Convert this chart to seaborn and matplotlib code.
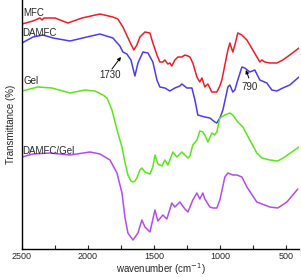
import pandas as pd
import matplotlib
matplotlib.use("Agg")
import matplotlib.pyplot as plt
import seaborn as sns

# FTIR spectra (arbitrary transmittance units)
mfc_wn = [2500, 2417, 2364, 2348, 2333, 2250, 2152, 2045, 1909, 1811, 1773, 1735, 1682, 1652,
          1629, 1606, 1568, 1530, 1508, 1477, 1455, 1432, 1417, 1394, 1379, 1364, 1341, 1318,
          1288, 1265, 1242, 1227, 1205, 1174, 1152, 1136, 1114, 1091, 1061, 1023, 1000, 985,
          939, 924, 902, 886, 864, 833, 795, 750, 697, 682, 659, 621, 568, 523, 470, 400]
mfc_t = [226, 229, 232, 230, 232, 232, 227, 232, 236, 233, 231, 223, 208, 200,
         205, 213, 218, 217, 207, 195, 188, 188, 190, 186, 187, 184, 190, 193,
         193, 195, 194, 193, 187, 173, 168, 172, 163, 166, 158, 158, 164, 170,
         200, 207, 198, 205, 217, 215, 210, 200, 188, 190, 188, 187, 187, 190, 195, 202]

damfc_wn = [2500, 2417, 2341, 2265, 2136, 2008, 1909, 1811, 1758, 1735, 1705, 1674, 1644,
            1621, 1583, 1545, 1508, 1477, 1455, 1417, 1379, 1341, 1303, 1288, 1250, 1212,
            1189, 1167, 1114, 1076, 1038, 1023, 1000, 977, 939, 924, 902, 886, 871, 833,
            811, 773, 735, 697, 644, 606, 568, 523, 470, 400]
damfc_t = [207, 213, 215, 212, 209, 213, 216, 212, 204, 198, 196, 190, 174,
           187, 198, 197, 188, 170, 163, 162, 159, 162, 164, 166, 162, 162,
           150, 135, 133, 132, 128, 127, 132, 140, 163, 165, 158, 160, 167, 183,
           182, 178, 180, 170, 167, 160, 159, 162, 165, 173]

gel_wn = [2500, 2379, 2273, 2136, 2023, 1947, 1886, 1856, 1818, 1795, 1773, 1742, 1720,
          1697, 1674, 1659, 1644, 1629, 1606, 1591, 1568, 1530, 1508, 1492, 1470, 1439,
          1417, 1394, 1379, 1356, 1326, 1288, 1242, 1227, 1205, 1174, 1152, 1129, 1114,
          1091, 1061, 1038, 1023, 1000, 962, 924, 902, 864, 826, 773, 720, 682, 621, 561,
          508, 455, 400]
gel_t = [159, 163, 162, 157, 160, 159, 155, 152, 140, 128, 117, 103, 88,
         75, 69, 68, 69, 72, 80, 82, 78, 76, 83, 95, 86, 84,
         90, 85, 90, 98, 93, 98, 92, 94, 105, 110, 119, 118, 115,
         108, 117, 115, 118, 132, 135, 137, 135, 128, 123, 110, 97, 92, 90, 89,
         93, 98, 103]

dg_wn = [2500, 2417, 2288, 2136, 1985, 1909, 1833, 1780, 1742, 1720, 1697, 1659, 1621,
         1591, 1568, 1530, 1492, 1470, 1432, 1402, 1364, 1341, 1303, 1265, 1242, 1205,
         1174, 1152, 1129, 1114, 1076, 1053, 1023, 1000, 962, 939, 902, 871, 833, 795,
         720, 621, 561, 492, 447, 409]
dg_t = [93, 96, 97, 95, 98, 96, 90, 77, 57, 33, 17, 10, 17,
        30, 23, 18, 40, 29, 35, 31, 47, 43, 48, 41, 38, 50,
        57, 51, 57, 51, 43, 42, 42, 50, 73, 77, 75, 75, 73, 63,
        48, 43, 42, 48, 55, 61]

names = ["MFC", "DAMFC", "Gel", "DAMFC/Gel"]
colors = ["#ee1c25", "#4b3cf0", "#5ae619", "#b44af0"]
spectra = [(mfc_wn, mfc_t), (damfc_wn, damfc_t), (gel_wn, gel_t), (dg_wn, dg_t)]

sns.set_style("ticks")
plt.rcParams["font.family"] = ["Liberation Sans", "DejaVu Sans"]

fig = plt.figure(figsize=(3.01, 2.77), dpi=100)
ax = fig.add_axes([22 / 301, 28 / 277, 277 / 301, 249 / 277])

for name, color, (wn, t) in zip(names, colors, spectra):
    df = pd.DataFrame({"wn": wn, "T": t})
    sns.lineplot(data=df, x="wn", y="T", color=color, linewidth=1.1, ax=ax,
                 sort=False, estimator=None)

ax.set_xlim(2500, 400)
ax.set_ylim(1, 250)
ax.set_xticks([2500, 2000, 1500, 1000, 500])
ax.set_xticks([2250, 1750, 1250, 750], minor=True)
ax.set_yticks([])
ax.tick_params(axis="x", which="both", direction="in", length=3, width=0.8,
               labelsize=6.5, pad=2.5)
sns.despine(ax=ax)
for sp in ["left", "bottom"]:
    ax.spines[sp].set_linewidth(1.0)
    ax.spines[sp].set_color("black")

ax.set_xlabel("wavenumber (cm$^{-1}$)", fontsize=7, labelpad=0)
ax.set_ylabel("Transmittance (%)", fontsize=7, labelpad=4)

# curve labels
ax.text(2488, 237, "MFC", fontsize=7, va="center", ha="left")
ax.text(2497, 217, "DAMFC", fontsize=7, va="center", ha="left")
ax.text(2488, 169, "Gel", fontsize=7, va="center", ha="left")
ax.text(2497, 99, "DAMFC/Gel", fontsize=7, va="center", ha="left")

# peak markers
ax.annotate("", xy=(1750, 193), xytext=(1818, 181),
            arrowprops=dict(arrowstyle="-|>", color="black", lw=0.7,
                            mutation_scale=5, shrinkA=0, shrinkB=0))
ax.text(1833, 175, "1730", fontsize=7, va="center", ha="center")
ax.annotate("", xy=(803, 180), xytext=(780, 172),
            arrowprops=dict(arrowstyle="-|>", color="black", lw=0.7,
                            mutation_scale=5, shrinkA=0, shrinkB=0))
ax.text(773, 163, "790", fontsize=7, va="center", ha="center")

fig.savefig("out.png", dpi=100)
